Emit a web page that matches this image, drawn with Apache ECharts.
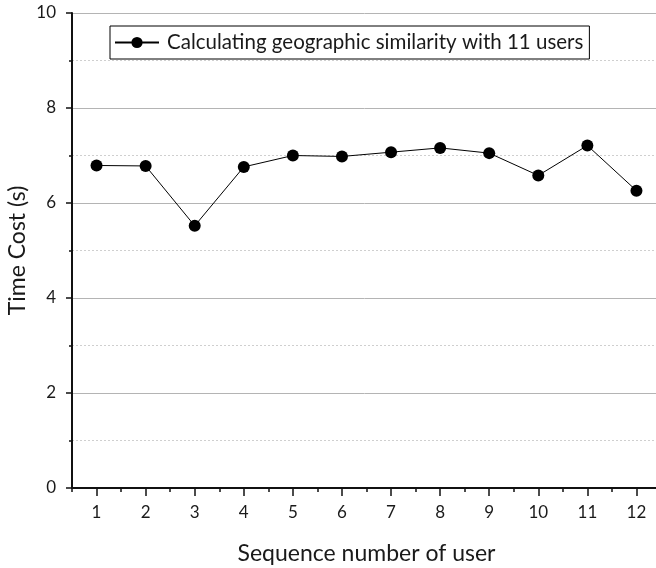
<!DOCTYPE html>
<html><head><meta charset="utf-8">
<script src="https://cdn.jsdelivr.net/npm/echarts@6/dist/echarts.min.js"></script>
<style>html,body{margin:0;padding:0;background:#fff}#c{width:656px;height:568px}</style>
</head><body><div id="c"></div>
<script>
var categories = ['1','2','3','4','5','6','7','8','9','10','11','12'];
var timeCost = [6.79, 6.78, 5.52, 6.76, 7.0, 6.98, 7.07, 7.16, 7.05, 6.58, 7.21, 6.26];
var seriesName = 'Calculating geographic similarity with 11 users';
var yTicks = [0, 2, 4, 6, 8, 10];

var FONT = 'Lato';
var chart = echarts.init(document.getElementById('c'));
chart.setOption({
  animation: false,
  textStyle: {fontFamily: FONT},
  grid: {left: 72, right: -5, top: 13, bottom: 80, containLabel: false, outerBoundsMode: 'none'},
  legend: {
    left: 110, top: 26, orient: 'horizontal',
    data: [seriesName],
    borderColor: '#000', borderWidth: 1, borderRadius: 0,
    padding: [6, 6, 6, 4],
    itemWidth: 44, itemHeight: 14,
    textStyle: {fontFamily: FONT, fontSize: 20.5, color: '#1a1a1a', padding: [0, 0, 0, 3]}
  },
  xAxis: [{
    type: 'category', data: categories, boundaryGap: true,
    name: 'Sequence number of user', nameLocation: 'middle', nameGap: 54, nameMoveOverlap: false,
    nameTextStyle: {fontFamily: FONT, fontSize: 23, color: '#1a1a1a'},
    axisLine: {show: true, lineStyle: {color: '#111', width: 2}},
    axisTick: {show: true, alignWithLabel: true, length: 8, lineStyle: {color: '#111', width: 1.5}},
    axisLabel: {fontFamily: FONT, fontSize: 17, color: '#1a1a1a', margin: 16},
    splitLine: {show: false}
  }, {
    type: 'value', min: 0.5, max: 12.5, interval: 1, position: 'bottom',
    axisLine: {show: false},
    axisTick: {show: true, length: 4, lineStyle: {color: '#111', width: 1.5}},
    axisLabel: {show: false}, splitLine: {show: false}
  }],
  yAxis: {
    type: 'value', min: 0, max: 10, interval: 2,
    name: 'Time Cost (s)', nameLocation: 'middle', nameGap: 43, nameMoveOverlap: false,
    nameTextStyle: {fontFamily: FONT, fontSize: 23, color: '#1a1a1a'},
    axisLine: {show: true, lineStyle: {color: '#111', width: 2}},
    axisTick: {show: true, length: 6, lineStyle: {color: '#111', width: 1.5}},
    minorTick: {show: true, splitNumber: 2, length: 3, lineStyle: {color: '#111', width: 1.5}},
    axisLabel: {fontFamily: FONT, fontSize: 17, color: '#1a1a1a', margin: 16,
      customValues: yTicks},
    splitLine: {show: true, lineStyle: {color: '#b4b4b4', width: 1}},
    minorSplitLine: {show: true, lineStyle: {color: '#cfcfcf', width: 1, type: [2, 2]}}
  },
  series: [{
    name: seriesName, type: 'line', xAxisIndex: 0, data: timeCost,
    symbol: 'circle', symbolSize: 12,
    lineStyle: {color: '#000', width: 1},
    itemStyle: {color: '#000'}
  }]
});
</script></body></html>
